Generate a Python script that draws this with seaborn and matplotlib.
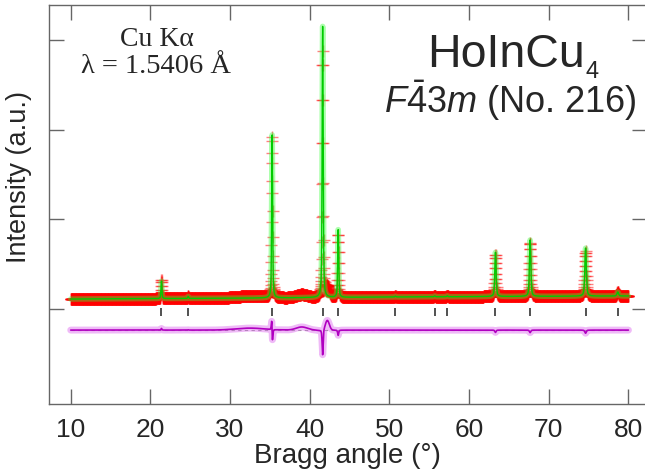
import numpy as np
import pandas as pd
import matplotlib
matplotlib.use("Agg")
import matplotlib.pyplot as plt
import seaborn as sns

# ---------------------------------------------------------------
# Powder pattern of HoInCu4 (Cu K-alpha), Rietveld-style display
# ---------------------------------------------------------------

# Reflection positions (2-theta, deg) of the cubic F-43m cell
refl_pos = [21.39, 24.74, 35.28, 41.62, 43.57, 50.75, 55.68, 57.26,
            63.31, 67.66, 74.62, 78.66]
# Calculated peak heights above background
calc_height = [197, 22, 1817, 3022, 764, 8, 10, 10, 496, 628, 535, 45]
# Observed peak heights and small position offsets
obs_height = [215, 25, 1800, 2740, 705, 8, 10, 10, 470, 600, 500, 45]
obs_shift = [0.0, 0.0, -0.006, 0.0, 0.0, 0.0, 0.0, 0.0,
             0.0, 0.0, 0.0, 0.0]
# Peak widths (FWHM, deg)
peak_fwhm = [0.13, 0.13, 0.14, 0.15, 0.15, 0.16, 0.17, 0.17,
             0.19, 0.20, 0.22, 0.24]

# Background curve
bg_angle = [10, 35, 50, 80]
bg_level = [111, 123, 134, 145]

# Broad features present in the measurement but not in the model
hump_pos = [32.5, 39.0, 42.2]
hump_amp = [22, 35, 110]
hump_sigma = [1.8, 0.7, 0.25]

# Vertical offsets of the reflection markers and the difference curve
tick_level = -28
diff_offset = -235

x_ticks = [10, 20, 30, 40, 50, 60, 70, 80]


def pseudo_voigt(x, x0, h, w, eta=0.5):
    t = (x - x0) / w
    gauss = np.exp(-4 * np.log(2) * t ** 2)
    lor = 1.0 / (1.0 + 4 * t ** 2)
    return h * (eta * lor + (1 - eta) * gauss)


two_theta = np.round(np.arange(10.0, 80.0001, 0.02), 2)
background = np.interp(two_theta, bg_angle, bg_level)

calc = background.copy()
obs = background.copy()
for p, hc, ho, dp, w in zip(refl_pos, calc_height, obs_height, obs_shift, peak_fwhm):
    calc += pseudo_voigt(two_theta, p, hc, w)
    obs += pseudo_voigt(two_theta, p + dp, ho, w)
for c, a, s in zip(hump_pos, hump_amp, hump_sigma):
    obs += a * np.exp(-0.5 * ((two_theta - c) / s) ** 2)

df = pd.DataFrame({"two_theta": two_theta, "obs": obs, "calc": calc,
                   "diff": obs - calc + diff_offset})
refl = pd.DataFrame({"pos": refl_pos, "y": [tick_level] * len(refl_pos)})

# ---------------------------------------------------------------
sns.set_theme(style="ticks")
plt.rcParams["font.family"] = ["Liberation Sans", "DejaVu Sans"]
plt.rcParams["mathtext.fontset"] = "custom"
plt.rcParams["mathtext.rm"] = "Liberation Sans"
plt.rcParams["mathtext.it"] = "Liberation Sans:italic"

W, H = 645, 476
XMIN, XMAX = 7.21, 82.33
fig = plt.figure(figsize=(W / 100, H / 100), dpi=100)
ax = fig.add_axes([48.5 / W, (H - 404) / H, (647 - 48.5) / W, (404 - 5) / H])

# observed points
sns.scatterplot(data=df, x="two_theta", y="obs", marker="+", color="#ff0000",
                s=75, linewidth=1.0, alpha=0.5, ax=ax, zorder=2, legend=False)
# calculated profile with a soft halo
sns.lineplot(data=df, x="two_theta", y="calc", color="#33ff33", lw=4,
             alpha=0.4, estimator=None, ax=ax, zorder=3)
sns.lineplot(data=df, x="two_theta", y="calc", color="#00cc00", lw=1.0,
             estimator=None, ax=ax, zorder=4)
# reflection markers
sns.scatterplot(data=refl, x="pos", y="y", marker="|", color="#333333",
                s=30, linewidth=1.2, ax=ax, zorder=4, legend=False)
# difference curve
ax.axhline(diff_offset, xmin=(10 - XMIN) / (XMAX - XMIN),
           xmax=(80 - XMIN) / (XMAX - XMIN), color="#999999", lw=0.8,
           ls=(0, (3, 3)), zorder=2)
sns.lineplot(data=df, x="two_theta", y="diff", color="#dd66ee", lw=5,
             alpha=0.45, estimator=None, ax=ax, zorder=3)
sns.lineplot(data=df, x="two_theta", y="diff", color="#b000c0", lw=1.2,
             estimator=None, ax=ax, zorder=4)

ax.set_xlim(XMIN, XMAX)
ax.set_ylim(-1059, 3389)
ax.set_xticks(x_ticks)
ax.set_yticks([0, 1000, 2000, 3000])
ax.set_yticklabels([])
ax.tick_params(direction="in", length=11, width=1, color="#666666",
               top=True, right=True, labelsize=19, pad=10)
for sp in ax.spines.values():
    sp.set_color("#666666")
    sp.set_linewidth(1.0)

ax.set_xlabel("Bragg angle (°)", fontsize=20, labelpad=1)
ax.set_ylabel("Intensity (a.u.)", fontsize=19.5)
ax.yaxis.set_label_coords((32 - 48.5) / (647 - 48.5), (404 - 177) / (404 - 5))

# annotations
serif = ["Liberation Serif", "DejaVu Serif"]
fig.text(157 / W, 1 - 46 / H, "Cu Kα", family=serif,
         fontsize=20, ha="center", va="baseline")
fig.text(156 / W, 1 - 73 / H, "λ = 1.5406 Å", family=serif,
         fontsize=20.5, ha="center", va="baseline")

formula = fig.text(427 / W, 1 - 67 / H, "HoInCu", fontsize=33.5,
                   ha="left", va="baseline")
fig.canvas.draw()
end_px = formula.get_window_extent(fig.canvas.get_renderer()).x1
fig.text((end_px + 1) / W, 1 - 78 / H, "4", fontsize=17, ha="left", va="baseline")
fig.text(510 / W, 1 - 113 / H, r"$\mathit{F\bar{4}3m}$ (No. 216)", fontsize=26,
         ha="center", va="baseline")

fig.savefig("out.png", dpi=100)
